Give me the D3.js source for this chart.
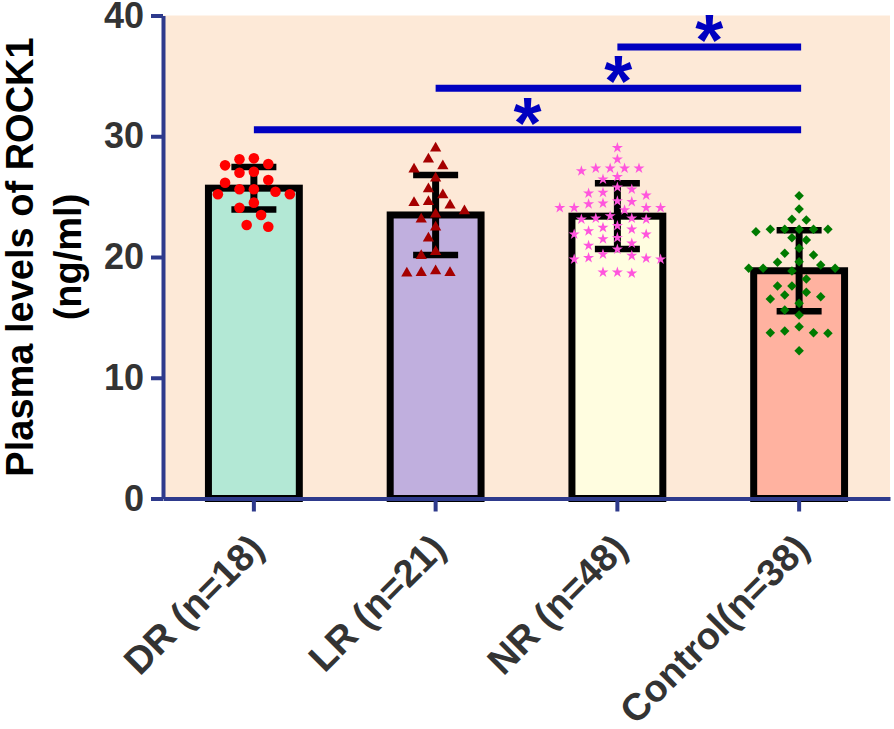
<!DOCTYPE html>
<html><head><meta charset="utf-8">
<script src="https://cdn.jsdelivr.net/npm/d3@7"></script>
<style>body{margin:0;background:#fff}svg{display:block}</style>
</head><body>
<svg id="chart" width="894" height="729"></svg>
<script>
// ---------- data ----------
const categories = ["DR (n=18)", "LR (n=21)", "NR (n=48)", "Control(n=38)"];
const means = [25.7, 23.48, 23.38, 18.86];
const sds = [1.76, 3.32, 2.72, 3.36];
const drValues = [28.17, 27.70, 28.09, 27.59, 27.06, 26.98, 26.38, 26.15, 25.61, 25.19, 25.41, 25.61, 25.19, 24.50, 24.08, 23.48, 22.51, 22.65];
const lrValues = [29.00, 28.09, 27.54, 27.26, 26.52, 25.63, 25.13, 24.28, 24.50, 24.58, 23.81, 23.54, 23.12, 22.46, 21.55, 20.44, 20.11, 18.70, 18.65, 18.70, 18.84];
const nrValues = [29.05, 28.09, 27.35, 27.35, 27.12, 27.35, 27.35, 26.43, 26.65, 25.61, 25.28, 25.11, 25.33, 25.77, 24.64, 24.45, 24.08, 24.08, 23.89, 24.08, 24.08, 24.39, 24.58, 23.12, 23.20, 23.12, 23.20, 23.40, 22.29, 22.59, 22.43, 21.88, 21.60, 21.49, 21.88, 22.15, 21.13, 20.94, 20.64, 20.11, 19.94, 20.22, 19.81, 19.89, 19.81, 18.73, 18.65, 18.73];
const controlValues = [25.08, 23.98, 23.12, 23.06, 22.29, 22.29, 22.29, 22.29, 22.29, 22.10, 21.41, 21.60, 20.31, 20.17, 20.72, 19.61, 19.56, 19.06, 19.06, 19.06, 19.34, 18.84, 18.18, 17.60, 17.60, 17.08, 16.71, 16.52, 16.85, 16.17, 15.61, 15.20, 13.87, 13.73, 13.68, 13.73, 14.23, 12.24];
const yTicks = [0, 10, 20, 30, 40];
const sigFrom = ["DR (n=18)", "LR (n=21)", "NR (n=48)"];
const sigTo = ["Control(n=38)", "Control(n=38)", "Control(n=38)"];
const sigLevels = [30.54, 33.97, 37.39];
const sigLabels = ["*", "*", "*"];

// ---------- styles ----------
const barFills = ["#B3E8D5", "#C0AFDE", "#FFFDE0", "#FFB2A0"];
const pointFills = ["#FF0000", "#A50000", "#FF55DD", "#007A00"];
const symbolTypes = [d3.symbolCircle, d3.symbolTriangle, d3.symbolStar, d3.symbolSquare];
const symbolSizes = [88, 55, 38, 45];
const symbolRotate = [0, 0, 0, 45];
const swarmDist = [12.5, 12.5, 10.5, 11];
const groups = [drValues, lrValues, nrValues, controlValues];
const axisColor = "#2E3A8C";
const textColor = "#333333";
const FONT = "Arial, 'Liberation Sans', Helvetica, sans-serif";

const svg = d3.select("#chart");
const pLeft = 163, pRight = 890, pTop = 15.5, pBottom = 498.5;

const x = d3.scaleBand().domain(categories).range([pLeft, pRight]).padding(0);
const y = d3.scaleLinear().domain([0, 40]).range([pBottom, pTop]);
const cx = c => x(c) + x.bandwidth() / 2;
const barW = x.bandwidth() * 0.5;

// background
svg.append("rect").attr("x", pLeft).attr("y", pTop)
  .attr("width", pRight - pLeft).attr("height", pBottom - pTop).attr("fill", "#FDE9D7");

// bars
svg.append("g").selectAll("rect").data(categories).join("rect")
  .attr("x", d => cx(d) - barW / 2)
  .attr("y", (d, i) => y(means[i]))
  .attr("width", barW)
  .attr("height", (d, i) => y(0) - y(means[i]))
  .attr("fill", (d, i) => barFills[i])
  .attr("stroke", "#000").attr("stroke-width", 7);

// error bars
const capW = 45;
const eg = svg.append("g").attr("stroke", "#000");
categories.forEach((c, i) => {
  const hi = y(means[i] + sds[i]), lo = y(means[i] - sds[i]);
  eg.append("line").attr("x1", cx(c)).attr("x2", cx(c)).attr("y1", hi).attr("y2", lo).attr("stroke-width", 7);
  eg.append("line").attr("x1", cx(c) - capW / 2).attr("x2", cx(c) + capW / 2).attr("y1", hi).attr("y2", hi).attr("stroke-width", 6.5);
  eg.append("line").attr("x1", cx(c) - capW / 2).attr("x2", cx(c) + capW / 2).attr("y1", lo).attr("y2", lo).attr("stroke-width", 6.5);
});

// beeswarm layout (deterministic)
function swarm(values, step, minDist) {
  const order = values.map((v, i) => i).sort((a, b) => values[b] - values[a]);
  const placed = [];
  const out = new Array(values.length).fill(0);
  order.forEach(i => {
    const py = y(values[i]);
    for (let k = 0; k < 60; k++) {
      const off = (k === 0 ? 0 : (k % 2 ? -1 : 1) * Math.ceil(k / 2)) * step;
      if (placed.every(p => Math.hypot(p.dx - off, p.py - py) >= minDist)) {
        placed.push({dx: off, py}); out[i] = off; break;
      }
    }
  });
  return out;
}

groups.forEach((vals, gi) => {
  const offs = swarm(vals, 7.2, swarmDist[gi]);
  const sym = d3.symbol().type(symbolTypes[gi]).size(symbolSizes[gi]);
  svg.append("g").selectAll("path").data(vals).join("path")
    .attr("d", sym)
    .attr("transform", (v, j) => `translate(${cx(categories[gi]) + offs[j]},${y(v)}) rotate(${symbolRotate[gi]})`)
    .attr("fill", pointFills[gi]);
});

// significance bars
sigLevels.forEach((lv, i) => {
  const x1 = cx(sigFrom[i]), x2 = cx(sigTo[i]) + 2;
  svg.append("line").attr("x1", x1).attr("x2", x2).attr("y1", y(lv)).attr("y2", y(lv))
    .attr("stroke", "#0000C0").attr("stroke-width", 7);
  svg.append("text").attr("x", (x1 + x2) / 2).attr("y", y(lv) + 18)
    .attr("text-anchor", "middle").attr("fill", "#0000C0")
    .style("font", `bold 72px ${FONT}`).text(sigLabels[i]);
});

// axes
const yAxis = svg.append("g").attr("transform", `translate(${pLeft},0)`)
  .call(d3.axisLeft(y).tickValues(yTicks).tickSize(12).tickSizeOuter(0).tickPadding(7));
const xAxis = svg.append("g").attr("transform", `translate(0,${pBottom})`)
  .call(d3.axisBottom(x).tickSize(13).tickSizeOuter(0));
[yAxis, xAxis].forEach(a => {
  a.select(".domain").attr("stroke", axisColor).attr("stroke-width", 4);
  a.selectAll(".tick line").attr("stroke", axisColor).attr("stroke-width", 4);
  a.selectAll("text").attr("fill", textColor).style("font-family", FONT).style("font-weight", "bold");
});
yAxis.selectAll("text").style("font-size", "36px");
xAxis.selectAll("text").style("font-size", "38px")
  .attr("x", 0).attr("y", 0).attr("dy", 0)
  .attr("transform", "translate(12,52) rotate(-45)")
  .style("text-anchor", "end");

// y label
const yl = svg.append("text").attr("transform", `translate(0,${(pTop + pBottom) / 2}) rotate(-90)`)
  .attr("text-anchor", "middle").attr("fill", "#000")
  .style("font", `bold 38px ${FONT}`);
yl.append("tspan").attr("x", 0).attr("y", 33).text("Plasma levels of ROCK1");
yl.append("tspan").attr("x", 0).attr("y", 81).text("(ng/ml)");
</script>
</body></html>
